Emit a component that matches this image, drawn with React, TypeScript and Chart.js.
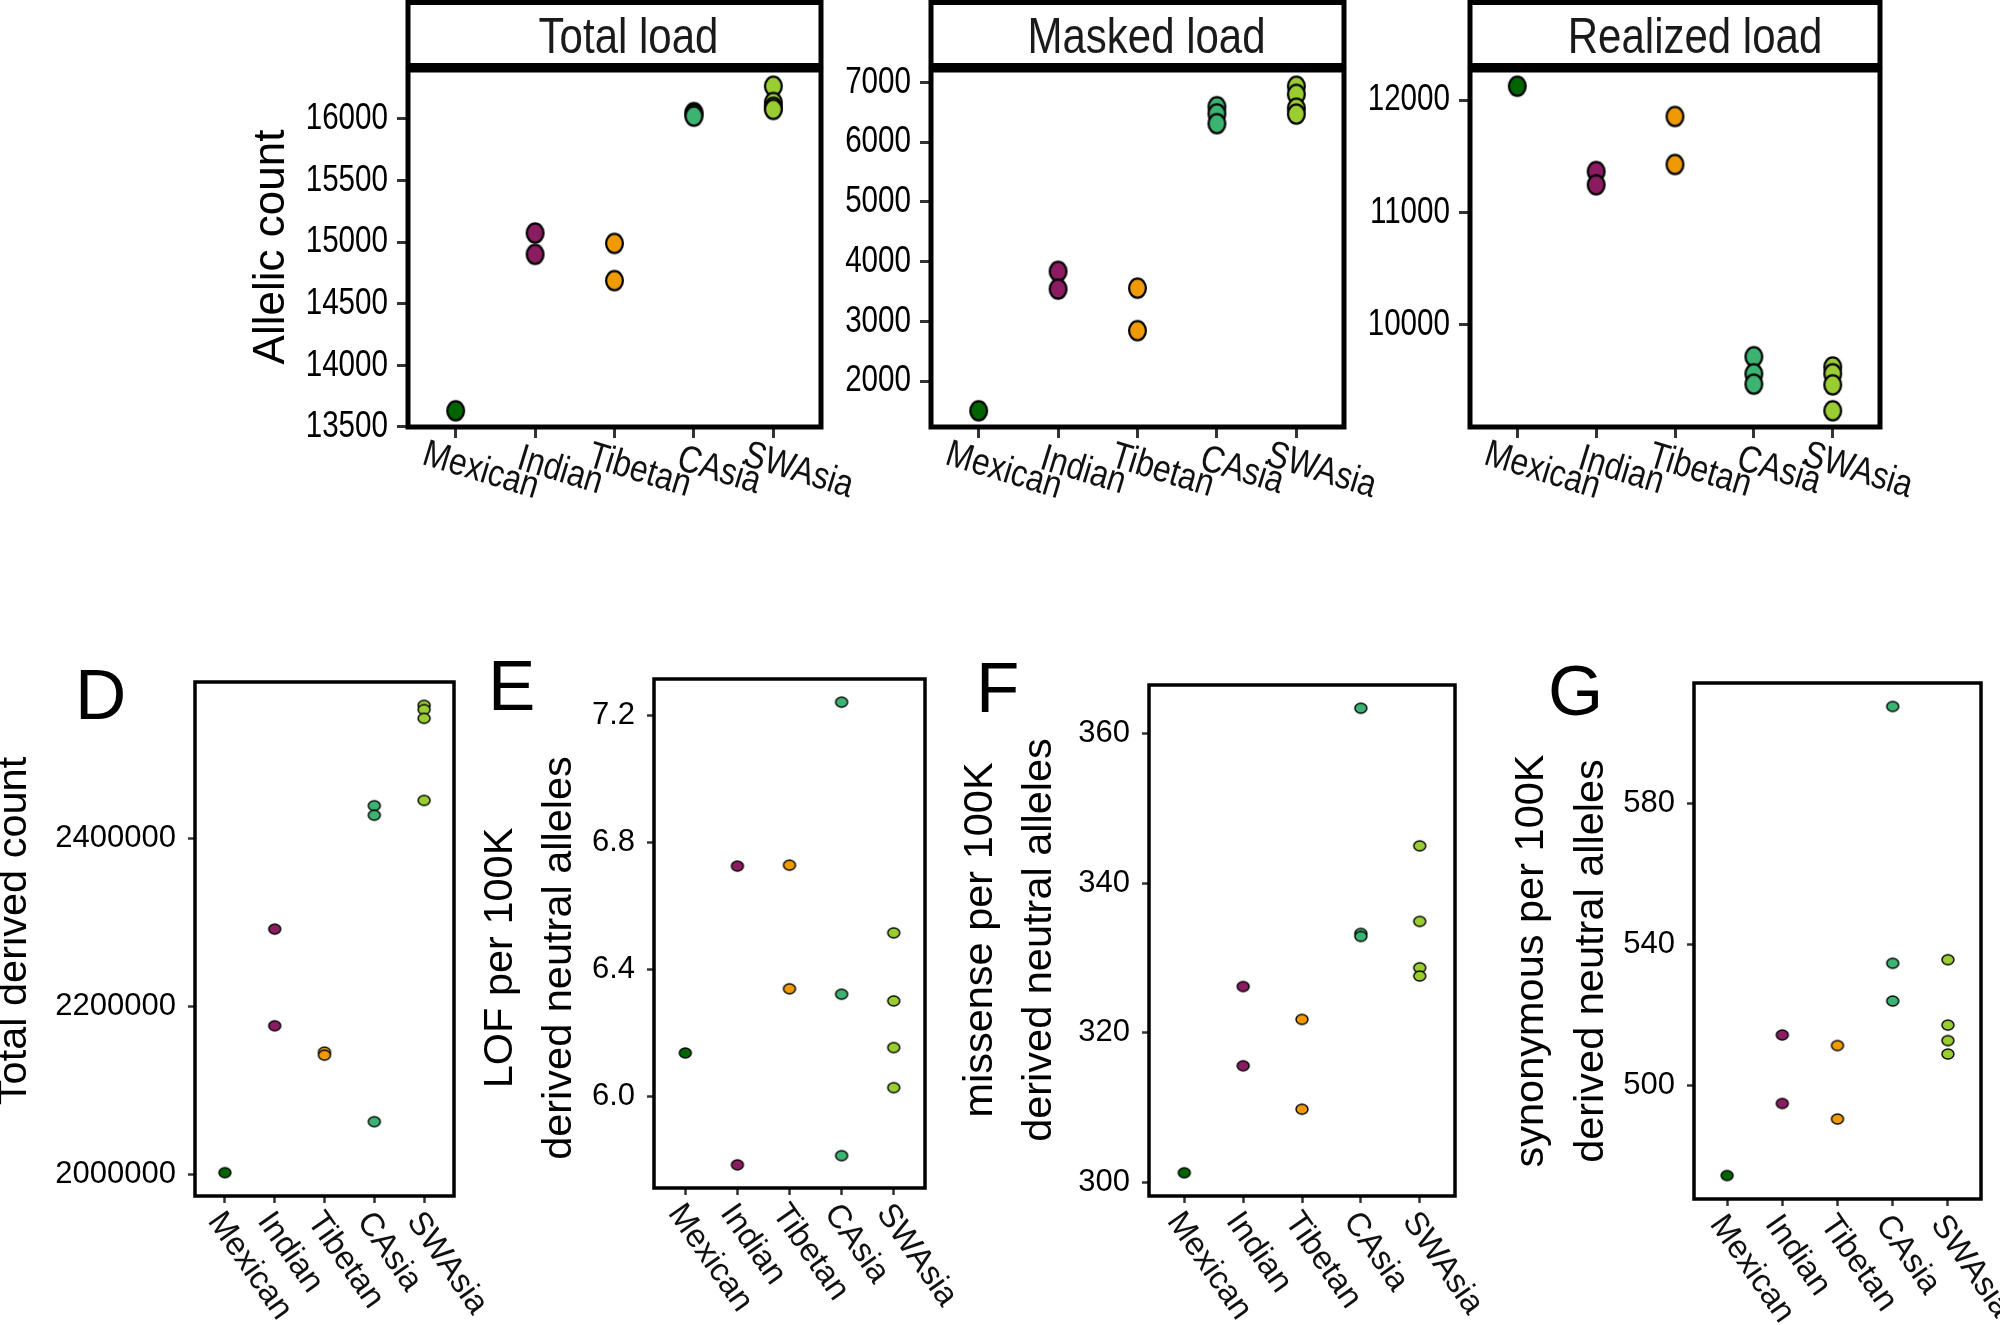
import React, { useEffect, useRef } from 'react';
import { Chart, registerables } from 'chart.js';

Chart.register(...registerables);

// ---------- data ----------
const categories = ['Mexican', 'Indian', 'Tibetan', 'CAsia', 'SWAsia'];
const groupColors = ['#006400', '#8B1C62', '#EE9A00', '#3CB371', '#9ACD32'];

const totalLoad = [[13631], [15074, 14901], [14990, 14688], [16052, 16040, 16023], [16266, 16134, 16095, 16078]];
const maskedLoad = [[1503], [3838, 3540], [3556, 2844], [6594, 6475, 6310], [6937, 6801, 6570, 6470]];
const realizedLoad = [[12123], [11364, 11246], [11854, 11427], [9716, 9564, 9472], [9625, 9564, 9466, 9235]];
const totalDerived = [[2002400], [2292000, 2177000], [2145700, 2142100], [2438700, 2427400, 2063000], [2558000, 2553000, 2542600, 2445000]];
const lofPer100k = [[6.138], [6.726, 5.786], [6.729, 6.34], [7.242, 6.323, 5.815], [6.516, 6.302, 6.155, 6.029]];
const missensePer100k = [[301.3], [326.2, 315.6], [321.8, 309.8], [363.4, 333.3, 332.9], [345.0, 334.9, 328.7, 327.6]];
const synonymousPer100k = [[474.6], [514.4, 495.0], [511.4, 490.6], [607.4, 534.7, 524.0], [535.7, 517.2, 512.8, 509.0]];

const totalTicks = [13500, 14000, 14500, 15000, 15500, 16000];
const maskedTicks = [2000, 3000, 4000, 5000, 6000, 7000];
const realizedTicks = [10000, 11000, 12000];
const derivedTicks = [2000000, 2200000, 2400000];
const lofTicks = [6.0, 6.4, 6.8, 7.2];
const missenseTicks = [300, 320, 340, 360];
const synonymousTicks = [500, 540, 580];

const stripTitles = ['Total load', 'Masked load', 'Realized load'];
const panelLetters = ['D', 'E', 'F', 'G'];
const titleAllelic = ['Allelic count'];
const titleDerived = ['Total derived count'];
const titleLof = ['LOF per 100K', 'derived neutral alleles'];
const titleMissense = ['missense per 100K', 'derived neutral alleles'];
const titleSynonymous = ['synonymous per 100K', 'derived neutral alleles'];

// ---------- style / layout ----------
const SANS = '"Liberation Sans", Arial, Helvetica, sans-serif';
const PAGE_W = 2000;
const PAGE_H = 1325;

type Panel = {
  values: number[][];
  ticks: number[];
  decimals: number;
  area: [number, number, number, number];
  top: boolean;
  strip?: { text: string; dx: number };
  letter?: { text: string; x: number; y: number };
  title?: { lines: string[]; cx: number; cy: number; size: number; gap: number };
};

const panels: Panel[] = [
  { values: totalLoad, ticks: totalTicks, decimals: 0, area: [408, 70, 821, 427], top: true, strip: { text: stripTitles[0], dx: 14 },
    title: { lines: titleAllelic, cx: 272, cy: 247, size: 44, gap: 0 } },
  { values: maskedLoad, ticks: maskedTicks, decimals: 0, area: [931, 70, 1344, 427], top: true, strip: { text: stripTitles[1], dx: 9 } },
  { values: realizedLoad, ticks: realizedTicks, decimals: 0, area: [1470, 70, 1880, 427], top: true, strip: { text: stripTitles[2], dx: 20 } },
  { values: totalDerived, ticks: derivedTicks, decimals: 0, area: [195, 682, 454, 1196], top: false,
    letter: { text: panelLetters[0], x: 75, y: 719 },
    title: { lines: titleDerived, cx: 15, cy: 931, size: 41.5, gap: 59 } },
  { values: lofPer100k, ticks: lofTicks, decimals: 1, area: [654, 679, 925, 1188], top: false,
    letter: { text: panelLetters[1], x: 488, y: 710 },
    title: { lines: titleLof, cx: 501, cy: 958, size: 41.5, gap: 59 } },
  { values: missensePer100k, ticks: missenseTicks, decimals: 0, area: [1149, 685, 1455, 1196], top: false,
    letter: { text: panelLetters[2], x: 976, y: 712 },
    title: { lines: titleMissense, cx: 981, cy: 940, size: 41.5, gap: 59 } },
  { values: synonymousPer100k, ticks: synonymousTicks, decimals: 0, area: [1694, 683, 1981, 1199], top: false,
    letter: { text: panelLetters[3], x: 1548, y: 715 },
    title: { lines: titleSynonymous, cx: 1532, cy: 961, size: 41.5, gap: 60 } },
];

function ellipseImage(color: string, rx: number, ry: number, lw: number): HTMLCanvasElement {
  const c = document.createElement('canvas');
  const w = Math.ceil(2 * rx + lw + 2);
  const h = Math.ceil(2 * ry + lw + 2);
  c.width = w;
  c.height = h;
  const g = c.getContext('2d')!;
  g.beginPath();
  g.ellipse(w / 2, h / 2, rx, ry, 0, 0, Math.PI * 2);
  g.fillStyle = color;
  g.fill();
  g.lineWidth = lw;
  g.strokeStyle = '#000';
  g.stroke();
  return c;
}

function narrowText(ctx: CanvasRenderingContext2D, text: string, x: number, y: number, rot: number, sx: number) {
  ctx.save();
  ctx.translate(x, y);
  ctx.rotate(rot);
  ctx.scale(sx, 1);
  ctx.fillText(text, 0, 0);
  ctx.restore();
}

function decorPlugin(p: Panel) {
  return {
    id: 'decor',
    afterDraw(chart: any) {
      const ctx: CanvasRenderingContext2D = chart.ctx;
      const a = chart.chartArea;
      const xs = chart.scales.x;
      const ys = chart.scales.y;
      ctx.save();
      // panel border
      ctx.strokeStyle = '#000';
      ctx.lineWidth = p.top ? 5 : 3.5;
      ctx.strokeRect(a.left, a.top, a.right - a.left, a.bottom - a.top);
      // facet strip
      if (p.strip) {
        ctx.fillStyle = '#fff';
        ctx.fillRect(a.left, 2.5, a.right - a.left, 63);
        ctx.lineWidth = 5;
        ctx.strokeRect(a.left, 2.5, a.right - a.left, 63);
        ctx.fillStyle = '#1a1a1a';
        ctx.font = `50px ${SANS}`;
        ctx.textAlign = 'center';
        ctx.textBaseline = 'alphabetic';
        narrowText(ctx, p.strip.text, (a.left + a.right) / 2 + p.strip.dx, 53, 0, 0.84);
      }
      // narrow y tick labels for the top row
      if (p.top) {
        ctx.fillStyle = '#000';
        ctx.font = `37px ${SANS}`;
        ctx.textAlign = 'right';
        ctx.textBaseline = 'middle';
        p.ticks.forEach((v) => {
          narrowText(ctx, String(v), a.left - 20, ys.getPixelForValue(v), 0, 0.8);
        });
      }
      // category labels
      categories.forEach((cat, i) => {
        const px = xs.getPixelForValue(i);
        ctx.fillStyle = '#111';
        if (p.top) {
          ctx.font = `38px ${SANS}`;
          ctx.textAlign = 'center';
          ctx.textBaseline = 'middle';
          narrowText(ctx, cat, px + 25, a.bottom + 44, (17 * Math.PI) / 180, 0.84);
        } else {
          ctx.save();
          ctx.translate(px - 18, a.bottom + 25);
          ctx.rotate((55 * Math.PI) / 180);
          ctx.font = `33px ${SANS}`;
          ctx.textAlign = 'left';
          ctx.textBaseline = 'alphabetic';
          ctx.fillText(cat, 0, 0);
          ctx.restore();
        }
      });
      // y-axis title
      if (p.title) {
        const t = p.title;
        ctx.fillStyle = '#000';
        ctx.font = `${t.size}px ${SANS}`;
        ctx.textAlign = 'center';
        ctx.textBaseline = 'middle';
        t.lines.forEach((line, k) => {
          ctx.save();
          ctx.translate(t.cx + k * t.gap, t.cy);
          ctx.rotate(-Math.PI / 2);
          ctx.fillText(line, 0, 0);
          ctx.restore();
        });
      }
      // panel letter
      if (p.letter) {
        ctx.fillStyle = '#000';
        ctx.font = `71px ${SANS}`;
        ctx.textAlign = 'left';
        ctx.textBaseline = 'alphabetic';
        ctx.fillText(p.letter.text, p.letter.x, p.letter.y);
      }
      ctx.restore();
    },
  };
}

function buildChart(canvas: HTMLCanvasElement, p: Panel): Chart {
  const [L, T, R, B] = p.area;
  const W = 150;
  const H = 20;
  const all = p.values.flat();
  const vmin = Math.min(...all);
  const vmax = Math.max(...all);
  const span = vmax - vmin;
  const rx = p.top ? 8.4 : 6.0;
  const ry = p.top ? 9.6 : 5.0;
  const lw = p.top ? 2.2 : 1.4;
  const imgs = groupColors.map((c) => ellipseImage(c, rx, ry, lw));
  const tl = p.top ? 11 : 7;
  const tw = p.top ? 3 : 2.5;
  return new Chart(canvas, {
    type: 'scatter',
    data: {
      datasets: categories.map((cat, i) => ({
        label: cat,
        data: p.values[i].map((v) => ({ x: i, y: v })),
        pointStyle: imgs[i] as any,
        pointRadius: 10,
        pointHoverRadius: 10,
        backgroundColor: groupColors[i],
        borderColor: '#000',
        clip: false as any,
      })),
    },
    options: {
      animation: false,
      responsive: false,
      devicePixelRatio: 1,
      events: [],
      layout: { padding: { left: L - W, right: PAGE_W - R, top: T, bottom: PAGE_H - B - H } },
      plugins: { legend: { display: false }, tooltip: { enabled: false } },
      scales: {
        x: {
          type: 'linear',
          min: -0.6,
          max: 4.6,
          afterBuildTicks: (s: any) => {
            s.ticks = categories.map((_, i) => ({ value: i }));
          },
          afterFit: (s: any) => {
            s.height = H;
          },
          ticks: { display: false },
          grid: { display: true, drawOnChartArea: false, drawTicks: true, tickLength: tl, tickWidth: tw, tickColor: '#333' },
          border: { display: false },
        },
        y: {
          type: 'linear',
          min: vmin - 0.05 * span,
          max: vmax + 0.05 * span,
          afterBuildTicks: (s: any) => {
            s.ticks = p.ticks.map((v) => ({ value: v }));
          },
          afterFit: (s: any) => {
            s.width = W;
          },
          ticks: {
            display: !p.top,
            callback: (v: any) => (p.decimals ? Number(v).toFixed(p.decimals) : String(v)),
            font: { family: SANS, size: 31 },
            color: '#000',
            padding: 12,
          },
          grid: { display: true, drawOnChartArea: false, drawTicks: true, tickLength: tl, tickWidth: tw, tickColor: '#333' },
          border: { display: false },
        },
      },
    } as any,
    plugins: [decorPlugin(p)],
  });
}

export default function App() {
  const refs = useRef<(HTMLCanvasElement | null)[]>([]);
  useEffect(() => {
    const charts = panels.map((p, i) => buildChart(refs.current[i]!, p));
    return () => charts.forEach((c) => c.destroy());
  }, []);
  return (
    <div style={{ position: 'absolute', left: 0, top: 0, width: PAGE_W, height: PAGE_H, background: '#fff', overflow: 'hidden' }}>
      {panels.map((_, i) => (
        <canvas
          key={i}
          ref={(el) => {
            refs.current[i] = el;
          }}
          width={PAGE_W}
          height={PAGE_H}
          style={{ position: 'absolute', left: 0, top: 0 }}
        />
      ))}
    </div>
  );
}
